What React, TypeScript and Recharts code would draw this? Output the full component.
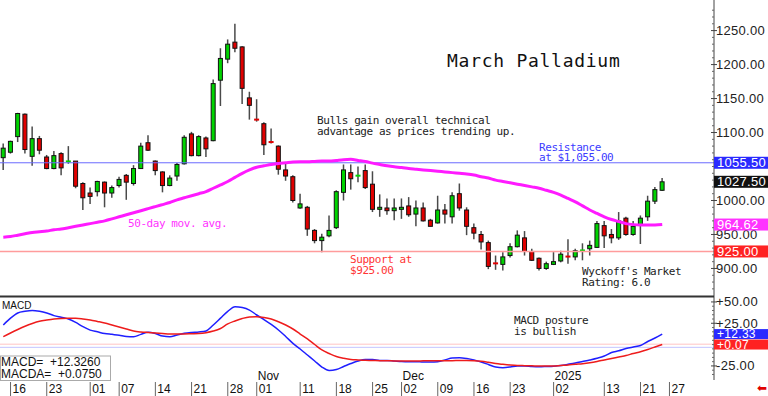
import { ComposedChart, Bar, Line, XAxis, YAxis, ReferenceLine } from 'recharts';

// trading-day index 0..91 (Sep 13 2024 .. Jan 24 2025)
const opens = [
  1063, 1071, 1094, 1127, 1065, 1091, 1064, 1047, 1069, 1057,
  1058, 1025, 1011, 1013, 1027, 1011, 1022, 1037, 1025, 1047,
  1085, 1058, 1042, 1022, 1036, 1054, 1098, 1066, 1092, 1088,
  1177, 1208, 1233, 1226, 1151, 1120, 1113, 1087, 1080, 1045,
  1035, 989, 990, 956, 941, 948, 960, 1012, 1041, 1036,
  1044, 1024, 987, 989, 985, 987, 992, 980, 989, 971,
  967, 986, 976, 1010, 986, 960, 950, 938, 908, 906,
  919, 932, 945, 925, 915, 900, 906, 911, 918, 917,
  926, 929, 931, 963, 950, 945, 974, 950, 964, 976,
  999, 1015,
];
const highs = [
  1084, 1088, 1129, 1128, 1109, 1095, 1067, 1073, 1071, 1080,
  1058, 1027, 1019, 1029, 1028, 1022, 1035, 1039, 1052, 1085,
  1096, 1059, 1043, 1037, 1055, 1096, 1101, 1096, 1094, 1178,
  1224, 1237, 1260, 1227, 1160, 1149, 1115, 1106, 1081, 1054,
  1037, 1010, 992, 958, 951, 978, 1015, 1053, 1053, 1050,
  1053, 1043, 1009, 1003, 1003, 1003, 1005, 1000, 997, 973,
  1007, 995, 1012, 1025, 990, 966, 955, 941, 919, 924,
  937, 956, 955, 929, 916, 910, 924, 926, 943, 929,
  937, 941, 970, 970, 958, 983, 976, 970, 978, 1007,
  1020, 1033,
];
const lows = [
  1045, 1069, 1086, 1069, 1051, 1068, 1046, 1046, 1037, 1054,
  1018, 986, 995, 1006, 990, 1004, 1019, 1001, 1022, 1047,
  1073, 1037, 1012, 1021, 1029, 1053, 1065, 1065, 1064, 1087,
  1139, 1202, 1218, 1142, 1119, 1116, 1067, 1084, 1038, 1029,
  997, 988, 948, 937, 924, 946, 958, 1000, 1016, 1027,
  1017, 983, 976, 979, 971, 973, 976, 962, 969, 962,
  966, 966, 966, 985, 949, 943, 928, 899, 898, 897,
  916, 931, 919, 911, 897, 898, 905, 909, 907, 912,
  912, 919, 930, 930, 937, 942, 948, 948, 936, 970,
  995, 1014,
];
const closes = [
  1077, 1087, 1128, 1075, 1091, 1074, 1047, 1066, 1048, 1058,
  1021, 1004, 1006, 1028, 1011, 1019, 1031, 1027, 1047, 1080,
  1074, 1044, 1022, 1033, 1053, 1093, 1066, 1094, 1076, 1172,
  1209, 1230, 1224, 1165, 1140, 1118, 1082, 1085, 1046, 1036,
  1000, 995, 958, 941, 946, 956, 1013, 1045, 1032, 1037,
  1019, 987, 990, 985, 989, 990, 979, 989, 970, 962,
  986, 980, 1007, 989, 962, 952, 939, 903, 907, 917,
  932, 949, 925, 912, 900, 907, 910, 921, 917, 926,
  927, 934, 966, 948, 945, 970, 950, 962, 974, 999,
  1016, 1027.5,
];
const ma50 = [
  946, 947, 949, 951, 953, 954, 955, 957, 958, 960,
  962, 964, 966, 968, 970, 973, 976, 979, 982, 985,
  988, 991, 994, 997, 1001, 1004, 1007, 1010, 1013, 1018,
  1023, 1028, 1034, 1040, 1045, 1049, 1051, 1053, 1054.5, 1055.5,
  1056.5, 1057, 1057, 1057.5, 1058, 1058, 1059, 1060, 1060.5, 1059,
  1057.5, 1055, 1053, 1051, 1049.5, 1048.5, 1047, 1046, 1045, 1044,
  1043, 1042, 1041, 1040, 1039, 1037.5, 1035, 1033, 1030, 1028,
  1026, 1024, 1022, 1020, 1018, 1015, 1012, 1008, 1003, 998,
  992, 986, 981, 976, 972, 969, 966, 964.5, 963.8, 963.8,
  964, 964.62,
];
const macd = [
  23, 31, 37, 39, 40, 39, 37, 34, 32, 30,
  26, 21, 17, 15, 13, 12, 11, 9.5, 9.3, 12,
  14.4, 13, 10, 9.3, 11.3, 13.2, 14.2, 14.8, 16, 23,
  31, 39, 44.4, 43.5, 40.5, 34.7, 29.4, 23.6, 17.1, 9.5,
  1.5, -5.2, -12.2, -19.2, -26.3, -30.4, -29.2, -25.7, -22.2, -19.2,
  -17.5, -17.5, -18.6, -18.6, -19.2, -19.8, -20, -20, -20.4, -20.4,
  -20, -18, -15.7, -15.4, -16.3, -18, -20.4, -23.3, -26.3, -27,
  -26.3, -25, -25, -25.7, -26, -25.7, -25.3, -24.5, -23.1, -21.6,
  -19.8, -18, -16, -13.4, -9.3, -7.2, -4.6, -2.8, -1.1, 3.6,
  7.7, 12.33,
];
const signal = [
  9.3, 13.6, 17.7, 21.5, 24.7, 27.3, 28.8, 30, 30.6, 30.8,
  30.8, 30, 28.8, 27.1, 25.3, 23, 20.6, 18.3, 15.9, 14.8,
  14.2, 13.6, 13, 12.4, 12.4, 12.4, 12.7, 13, 14, 15.9,
  18.9, 24.2, 27.7, 30.6, 32.4, 32.7, 31.8, 30, 26.8, 23,
  18.3, 12.4, 6.6, 0.1, -6.3, -10.4, -14, -16, -17.5, -18,
  -18.4, -18.6, -18.9, -18.9, -19.2, -19.2, -19.2, -19.2, -19, -18.9,
  -18.9, -18.9, -18.9, -18.6, -18.6, -18.9, -19.6, -20.8, -22.2, -23.1,
  -23.9, -24.5, -24.7, -24.9, -25.1, -25.1, -25.1, -24.5, -23.9, -23.1,
  -22.4, -21.3, -19.8, -18, -16.3, -14.5, -12.8, -10.4, -8.3, -5.7,
  -2.8, 0.07,
];

const dateTicks = [1, 6, 12, 16, 21, 26, 31, 35, 41, 46, 51, 55, 60, 65, 70, 76, 83, 88, 92];
const dateLabels = ['16', '23', '01', '07', '14', '21', '28', '01', '11', '18', '25', '02', '09', '16', '23', '02', '13', '21', '27'];
const monthTicks = [35, 55, 76];
const monthLabels = ['Nov', 'Dec', '2025'];

const priceLabels = [900, 950, 1000, 1100, 1150, 1200, 1250];
const priceMinor = [870, 880, 890, 910, 920, 930, 940, 960, 970, 980, 990, 1010, 1020, 1030, 1040, 1050, 1060, 1070, 1080, 1090, 1110, 1120, 1130, 1140, 1160, 1170, 1180, 1190, 1210, 1220, 1230, 1240, 1260, 1270, 1280];
const macdLabels = [50, 25, -25];
const macdMinor = [45, 40, 35, 30, 20, 15, 10, 5, 0, -5, -10, -15, -20, -30, -35];

const resistance = 1055.5;
const support = 925;
const lastClose = 1027.5;
const lastMa = 964.62;
const lastMacd = 12.326;
const lastMacda = 0.075;

const SANS = "'Liberation Sans', Arial, sans-serif";
const MONO = "'DejaVu Sans Mono', monospace";
const X_DOMAIN = [-0.456, 98.15];

const rows = opens.map((o, i) => ({
  i,
  open: o,
  high: highs[i],
  low: lows[i],
  close: closes[i],
  ma: ma50[i],
  macd: macd[i],
  signal: signal[i],
}));

const priceBoxes: Record<string, string> = {
  [resistance]: '#2a2aff',
  [lastClose]: '#111111',
  [lastMa]: '#ff33ff',
  [support]: '#ff2222',
};
const macdBoxes: Record<string, string> = {
  [lastMacd]: '#2a2aff',
  [lastMacda]: '#ff2222',
};

function Candle(props: any) {
  const { x, y, width, height, payload } = props;
  if (!payload || payload.open == null) return null;
  const top = Math.min(y, y + height);
  const h = Math.abs(height);
  const k = h / (payload.high - payload.low);
  const py = (v: number) => top + (payload.high - v) * k;
  const cx = x + width / 2;
  const up = payload.close >= payload.open;
  const color = up ? '#00d400' : '#e00000';
  const bTop = py(Math.max(payload.open, payload.close));
  const bBot = py(Math.min(payload.open, payload.close));
  return (
    <g>
      <line x1={cx} x2={cx} y1={top} y2={top + h} stroke="#4a4a4a" strokeWidth={1.5} />
      {bBot - bTop < 2 ? (
        <rect x={cx - 2.5} y={(bTop + bBot) / 2 - 1} width={5} height={2} fill={color} />
      ) : (
        <rect x={cx - 2} y={bTop} width={4} height={bBot - bTop} fill={color} stroke="#111" strokeWidth={1} />
      )}
    </g>
  );
}

function ValueTick({ x, y, payload, boxes, labels, fmt, boxH, size }: any) {
  const v = payload.value;
  const box = boxes[String(v)];
  if (box) {
    return (
      <g>
        <rect x={x} y={y - boxH / 2} width={54} height={boxH} fill={box} />
        <text x={x + 3} y={y + size * 0.36} fill="#fff" fontSize={size} fontFamily={SANS} letterSpacing={0.3}>
          {fmt(v)}
        </text>
      </g>
    );
  }
  if (labels.includes(v)) {
    return (
      <g>
        <line x1={x - 3} x2={x + 3} y1={y} y2={y} stroke="#444" />
        <text x={x + 2} y={y + 4.5} fill="#222" fontSize={13} fontFamily={SANS} letterSpacing={0.3}>
          {fmt(v)}
        </text>
      </g>
    );
  }
  return <line x1={x - 2} x2={x} y1={y} y2={y} stroke="#666" />;
}

function DateTick({ x, y, payload }: any) {
  const idx = dateTicks.indexOf(payload.value);
  const m = monthTicks.indexOf(payload.value);
  return (
    <g>
      <line x1={x} x2={x} y1={y + 2} y2={y + 16} stroke="#666" />
      <text x={x + 2} y={y + 13} fill="#111" fontSize={12} fontFamily={SANS}>
        {dateLabels[idx]}
      </text>
      {m >= 0 && (
        <text x={x + 1} y={y - 0.5} fill="#111" fontSize={12} fontFamily={SANS}>
          {monthLabels[m]}
        </text>
      )}
    </g>
  );
}

const priceFmt = (v: number) => v.toFixed(2);
const macdFmt = (v: number) => (v >= 0 ? '+' : '') + v.toFixed(2);

function Note({ x, y, lines, color, size = 11 }: any) {
  return (
    <text x={x} y={y} fill={color} fontSize={size} fontFamily={MONO} letterSpacing={-0.43} style={{ whiteSpace: 'pre' }}>
      {lines.map((l: string, k: number) => (
        <tspan key={k} x={x} dy={k === 0 ? 0 : 10.5}>
          {l}
        </tspan>
      ))}
    </text>
  );
}

export default function App() {
  return (
    <div style={{ position: 'absolute', left: 0, top: 0, width: 768, height: 396, background: '#fff', overflow: 'hidden' }}>
      <div style={{ position: 'absolute', left: 0, top: 0 }}>
        <ComposedChart width={768} height={297} data={rows} margin={{ top: 0, right: 0, bottom: 0, left: 0 }}>
          <XAxis dataKey="i" type="number" domain={X_DOMAIN} allowDataOverflow hide />
          <YAxis
            orientation="right"
            width={54}
            domain={[858, 1295]}
            allowDataOverflow
            ticks={[...priceMinor, ...priceLabels, lastMa, support, lastClose, resistance]}
            interval={0}
            tickSize={0}
            tickMargin={0}
            tickLine={false}
            axisLine={{ stroke: '#444' }}
            tick={<ValueTick boxes={priceBoxes} labels={priceLabels} fmt={priceFmt} boxH={12} size={13} />}
          />
          <ReferenceLine y={resistance} stroke="#6b6bff" />
          <ReferenceLine y={support} stroke="#ff9c9c" strokeWidth={1.5} />
          <Bar dataKey={(d: any) => [d.low, d.high]} shape={<Candle />} barSize={5} isAnimationActive={false} />
          <Line dataKey="ma" type="monotone" stroke="#ff1aff" strokeWidth={3} dot={false} activeDot={false} isAnimationActive={false} />
        </ComposedChart>
      </div>
      <div style={{ position: 'absolute', left: 0, top: 287 }}>
        <ComposedChart width={768} height={109} data={rows} margin={{ top: 10, right: 0, bottom: 0, left: 0 }}>
          <XAxis
            dataKey="i"
            type="number"
            domain={X_DOMAIN}
            allowDataOverflow
            ticks={dateTicks}
            interval={0}
            height={16}
            tickSize={0}
            tickMargin={0}
            tickLine={false}
            axisLine={false}
            tick={<DateTick />}
          />
          <YAxis
            orientation="right"
            width={54}
            domain={[-41.5, 55.8]}
            allowDataOverflow
            ticks={[...macdMinor, ...macdLabels, lastMacda, lastMacd]}
            interval={0}
            tickSize={0}
            tickMargin={0}
            tickLine={false}
            axisLine={{ stroke: '#444' }}
            tick={<ValueTick boxes={macdBoxes} labels={macdLabels} fmt={macdFmt} boxH={10} size={12} />}
          />
          <ReferenceLine y={0.5} stroke="#ffc4c4" />
          <ReferenceLine y={-3.2} stroke="#c4c4ff" />
          <Line dataKey="macd" type="monotone" stroke="#1f1fff" strokeWidth={1.5} dot={false} activeDot={false} isAnimationActive={false} />
          <Line dataKey="signal" type="monotone" stroke="#ee1c1c" strokeWidth={1.5} dot={false} activeDot={false} isAnimationActive={false} />
        </ComposedChart>
      </div>
      <svg width={768} height={396} style={{ position: 'absolute', left: 0, top: 0, pointerEvents: 'none' }}>
        <line x1={0} x2={714} y1={296.5} y2={296.5} stroke="#333" strokeWidth={2} />
        <text x={447} y={66.6} fontSize={18} fontFamily={MONO} letterSpacing={0.73} fill="#111">
          March Palladium
        </text>
        <Note x={317} y={124} color="#222" lines={['Bulls gain overall technical', 'advantage as prices trending up.']} />
        <Note x={539} y={150.7} color="#3b3bff" lines={['Resistance', 'at $1,055.00']} />
        <Note x={128} y={226.7} color="#ff33ff" lines={['50-day mov. avg.']} />
        <Note x={350} y={263} color="#ff3535" lines={['Support at', '$925.00']} />
        <Note x={582} y={275} color="#222" lines={["Wyckoff's Market", 'Rating: 6.0']} />
        <Note x={514} y={324} color="#222" lines={['MACD posture', 'is bullish']} />
        <text x={2} y={308.6} fontSize={10} fontFamily={SANS} fill="#111">
          MACD
        </text>
        <rect x={0.5} y={356} width={110} height={24.5} fill="#fff" stroke="#aaa" />
        <text x={1} y={366} fontSize={12} fontFamily={SANS} fill="#111" style={{ whiteSpace: 'pre' }}>
          {`MACD=  +${lastMacd.toFixed(4)}`}
        </text>
        <text x={1} y={377.6} fontSize={12} fontFamily={SANS} fill="#111" style={{ whiteSpace: 'pre' }}>
          {`MACDA=  +${lastMacda.toFixed(4)}`}
        </text>
        <text x={757} y={392} fontSize={12} fontFamily="'DejaVu Sans', sans-serif" fill="#e00000">
          ⬅
        </text>
      </svg>
    </div>
  );
}
